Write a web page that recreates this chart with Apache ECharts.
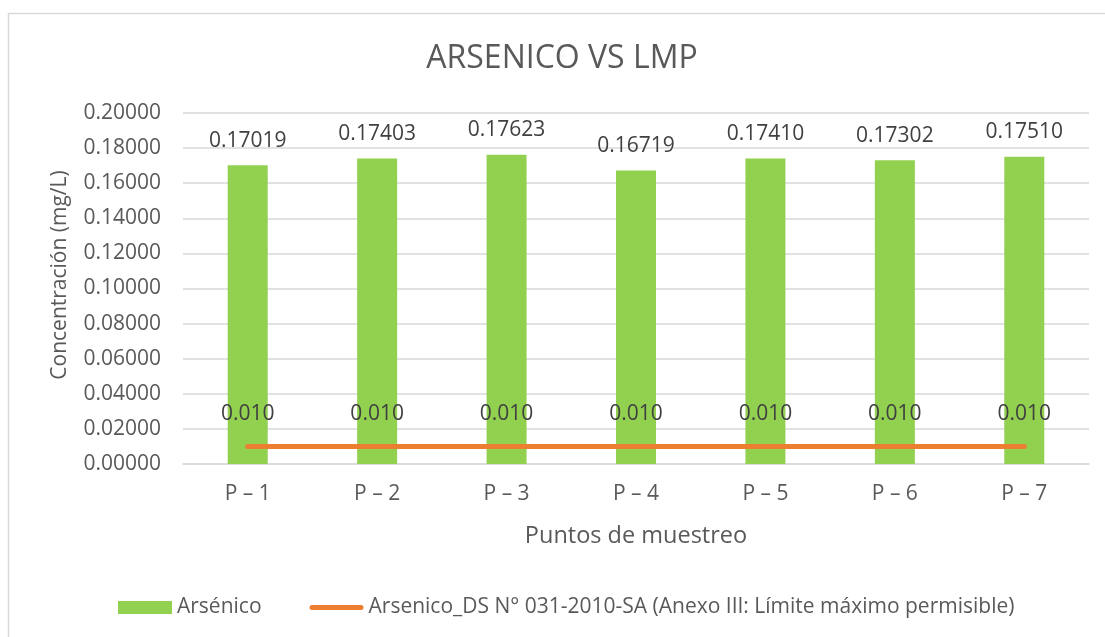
<!DOCTYPE html>
<html><head><meta charset="utf-8">
<script src="https://cdn.jsdelivr.net/npm/echarts@6/dist/echarts.min.js"></script>
<style>html,body{margin:0;padding:0;background:#fff}#c{width:1105px;height:637px}</style>
</head><body><div id="c"></div>
<script>
const categories = ['P – 1','P – 2','P – 3','P – 4','P – 5','P – 6','P – 7'];
const arsenico = [0.17019, 0.17403, 0.17623, 0.16719, 0.17410, 0.17302, 0.17510];
const lmp = [0.010, 0.010, 0.010, 0.010, 0.010, 0.010, 0.010];
const yTicks = [0, 0.02, 0.04, 0.06, 0.08, 0.10, 0.12, 0.14, 0.16, 0.18, 0.20];
const barName = 'Arsénico';
const lineName = 'Arsenico_DS N° 031-2010-SA (Anexo III: Límite máximo permisible)';
const yTitle = 'Concentración (mg/L)';

const FONT = 'Open Sans';
const SMALL = 21;
const chart = echarts.init(document.getElementById('c'), null, {renderer:'canvas'});
chart.setOption({
  animation:false,
  textStyle:{fontFamily:FONT},
  graphic:[
    {type:'rect', shape:{x:8.5,y:13.5,width:1110,height:640}, style:{fill:'none', stroke:'#d9d9d9', lineWidth:1.5}, silent:true},
    {type:'text', x:60, y:275, rotation:Math.PI/2, silent:true,
     style:{text:yTitle, fontFamily:FONT, fontSize:21, fill:'#595959', align:'center', verticalAlign:'middle'}}
  ],
  title:{text:'ARSENICO VS LMP', left:557, textAlign:'center', top:38,
    textStyle:{fontFamily:FONT, fontSize:32, fontWeight:'normal', color:'#595959'}},
  grid:{left:183, right:16, top:113, bottom:173},
  legend:{left:113, top:592, itemGap:48, itemWidth:54, itemHeight:13,
    textStyle:{fontFamily:FONT, fontSize:SMALL, color:'#595959'},
    data:[{name:barName, icon:'rect'},
          {name:lineName, icon:'path://M2.5,4 L51.5,4 A2.5,2.5 0 0 1 51.5,9 L2.5,9 A2.5,2.5 0 0 1 2.5,4 Z M0,0 M54,13'}]},
  xAxis:{type:'category', data:categories,
    axisLine:{lineStyle:{color:'#d9d9d9', width:1.5}}, axisTick:{show:false},
    axisLabel:{fontFamily:FONT, fontSize:SMALL, color:'#595959', margin:20},
    name:'Puntos de muestreo', nameLocation:'middle', nameGap:60,
    nameTextStyle:{fontFamily:FONT, fontSize:23.5, color:'#595959'}},
  yAxis:{type:'value', min:0, max:0.2, interval:0.02,
    axisLine:{show:false}, axisTick:{show:false},
    splitLine:{lineStyle:{color:'#d9d9d9', width:1.5}},
    axisLabel:{fontFamily:FONT, fontSize:SMALL, color:'#595959', margin:22, formatter:v=>v.toFixed(5)}},
  series:[
    {name:barName, type:'bar', data:arsenico, barWidth:40, itemStyle:{color:'#92D050'},
     label:{show:true, position:'top', distance:14, fontFamily:FONT, fontSize:SMALL, color:'#404040', formatter:p=>p.value.toFixed(5)}},
    {name:lineName, type:'line', data:lmp, symbol:'circle', symbolSize:0.01, showSymbol:true,
     lineStyle:{color:'#ED7D31', width:5, cap:'round'},
     itemStyle:{color:'#ED7D31'},
     label:{show:true, position:'top', distance:22, fontFamily:FONT, fontSize:SMALL, color:'#404040', formatter:p=>p.value.toFixed(3)}}
  ]
});
</script></body></html>
